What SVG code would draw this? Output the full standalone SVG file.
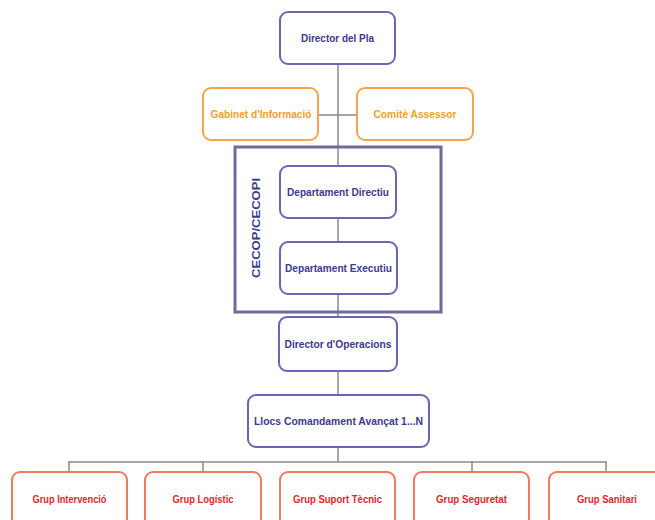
<svg xmlns="http://www.w3.org/2000/svg" width="655" height="520" viewBox="0 0 655 520">
<style>
.bg{fill:#ffffff}
.line{stroke:#8a8a8a;stroke-width:1.5;fill:none}
.b{fill:#ffffff;stroke:#6a66b4;stroke-width:2}
.o{fill:#ffffff;stroke:#f9a44a;stroke-width:2}
.r{fill:#ffffff;stroke:#f07a5e;stroke-width:2}
.frame{fill:none;stroke:#6f6a9c;stroke-width:3}
text{font-family:"Liberation Sans",Arial,sans-serif;font-weight:bold;font-size:11px;text-anchor:middle;dominant-baseline:central}
.tb{fill:#3c3a90}
.to{fill:#f6a01e}
.tr{fill:#e8262a}
</style>
<rect class="bg" x="0" y="0" width="655" height="520"/>
<g id="connectors">
<line class="line" x1="338" y1="64" x2="338" y2="317"/>
<line class="line" x1="318" y1="115" x2="357" y2="115"/>
<line class="line" x1="338" y1="371" x2="338" y2="395"/>
<line class="line" x1="338" y1="447" x2="338" y2="462"/>
<line class="line" x1="69" y1="462" x2="606" y2="462"/>
<line class="line" x1="69" y1="461" x2="69" y2="472"/>
<line class="line" x1="203" y1="461" x2="203" y2="472"/>
<line class="line" x1="472" y1="461" x2="472" y2="472"/>
<line class="line" x1="606" y1="461" x2="606" y2="472"/>
</g>
<g id="cecop">
<rect class="frame" x="235" y="147" width="206" height="165"/>
<text class="tb" transform="translate(256,228) rotate(-90)" textLength="100" lengthAdjust="spacingAndGlyphs">CECOP/CECOPI</text>
</g>
<g id="director-pla">
<rect class="b" x="280" y="12" width="115" height="52" rx="8"/>
<text class="tb" x="337.5" y="38" textLength="73" lengthAdjust="spacingAndGlyphs">Director del Pla</text>
</g>
<g id="gabinet">
<rect class="o" x="203" y="88" width="115" height="52" rx="8"/>
<text class="to" x="261" y="114" textLength="101" lengthAdjust="spacingAndGlyphs">Gabinet d'Informació</text>
</g>
<g id="comite">
<rect class="o" x="357" y="88" width="116" height="52" rx="8"/>
<text class="to" x="415" y="114" textLength="83" lengthAdjust="spacingAndGlyphs">Comitè Assessor</text>
</g>
<g id="dep-directiu">
<rect class="b" x="280" y="166" width="116" height="52" rx="8"/>
<text class="tb" x="338" y="192" textLength="102" lengthAdjust="spacingAndGlyphs">Departament Directiu</text>
</g>
<g id="dep-executiu">
<rect class="b" x="280" y="242" width="117" height="52" rx="8"/>
<text class="tb" x="338.5" y="268" textLength="107" lengthAdjust="spacingAndGlyphs">Departament Executiu</text>
</g>
<g id="director-operacions">
<rect class="b" x="279" y="317" width="118" height="54" rx="8"/>
<text class="tb" x="338" y="344" textLength="107" lengthAdjust="spacingAndGlyphs">Director d'Operacions</text>
</g>
<g id="llocs">
<rect class="b" x="248" y="395" width="181" height="52" rx="8"/>
<text class="tb" x="338.5" y="421" textLength="169" lengthAdjust="spacingAndGlyphs">Llocs Comandament Avançat 1...N</text>
</g>
<g id="grup-intervencio">
<rect class="r" x="12" y="472" width="115" height="60" rx="8"/>
<text class="tr" x="69.5" y="499" textLength="74" lengthAdjust="spacingAndGlyphs">Grup Intervenció</text>
</g>
<g id="grup-logistic">
<rect class="r" x="145" y="472" width="116" height="60" rx="8"/>
<text class="tr" x="203" y="499" textLength="61" lengthAdjust="spacingAndGlyphs">Grup Logístic</text>
</g>
<g id="grup-suport">
<rect class="r" x="280" y="472" width="115" height="60" rx="8"/>
<text class="tr" x="337.5" y="499" textLength="89" lengthAdjust="spacingAndGlyphs">Grup Suport Tècnic</text>
</g>
<g id="grup-seguretat">
<rect class="r" x="414" y="472" width="115" height="60" rx="8"/>
<text class="tr" x="471.5" y="499" textLength="71" lengthAdjust="spacingAndGlyphs">Grup Seguretat</text>
</g>
<g id="grup-sanitari">
<rect class="r" x="549" y="472" width="116" height="60" rx="8"/>
<text class="tr" x="607" y="499" textLength="60" lengthAdjust="spacingAndGlyphs">Grup Sanitari</text>
</g>
</svg>
